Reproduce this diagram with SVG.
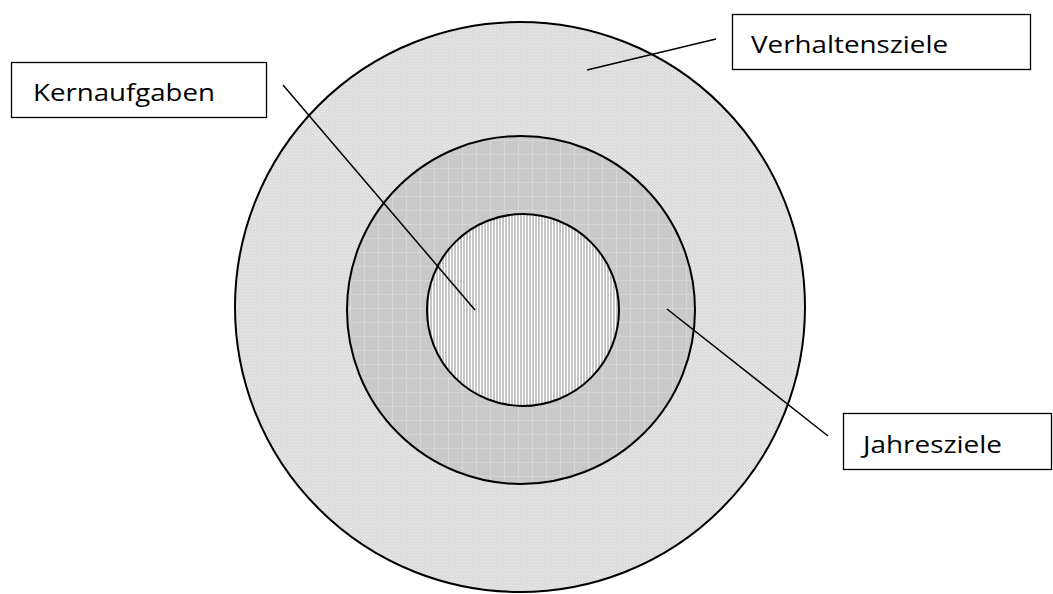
<svg xmlns="http://www.w3.org/2000/svg" width="1053" height="594" viewBox="0 0 1053 594">
<style>
.ring{stroke:#000;stroke-width:2}
.box{fill:#fff;stroke:#000;stroke-width:1.3}
.lbl{font-family:"Open Sans","Noto Sans",sans-serif;font-size:24.5px;fill:#000}
.conn{stroke:#000;stroke-width:1.5;fill:none}
</style>
<defs>
<pattern id="pOuter" width="3" height="3" patternUnits="userSpaceOnUse">
<rect width="3" height="3" fill="#dadada"/>
<rect x="0" y="0" width="1" height="1" fill="#f2f2f2"/>
<rect x="1.5" y="1.5" width="1" height="1" fill="#f2f2f2"/>
</pattern>
<pattern id="pMid" width="14" height="14" patternUnits="userSpaceOnUse">
<rect width="14" height="14" fill="#c9c9c9"/>
<rect x="0" y="0" width="14" height="1" fill="#d6d6d6"/>
<rect x="0" y="0" width="1" height="14" fill="#d6d6d6"/>
</pattern>
<pattern id="pInner" width="3" height="3" patternUnits="userSpaceOnUse">
<rect width="3" height="3" fill="#c6c6c6"/>
<rect x="0" y="0" width="1" height="3" fill="#ffffff"/>
</pattern>
</defs>
<g id="ring-verhaltensziele">
<circle class="ring" cx="520" cy="307" r="285" fill="url(#pOuter)"/>
</g>
<g id="ring-jahresziele">
<circle class="ring" cx="521" cy="310" r="174" fill="url(#pMid)"/>
</g>
<g id="ring-kernaufgaben">
<circle class="ring" cx="523" cy="310" r="96" fill="url(#pInner)"/>
</g>
<g id="connectors">
<line class="conn" x1="283" y1="85" x2="475" y2="310"/>
<line class="conn" x1="587" y1="70" x2="716" y2="39"/>
<line class="conn" x1="667" y1="309" x2="828" y2="436"/>
</g>
<g id="label-kernaufgaben">
<rect class="box" x="11.5" y="62.5" width="255" height="55"/>
<text class="lbl" x="33" y="101" textLength="182" lengthAdjust="spacingAndGlyphs">Kernaufgaben</text>
</g>
<g id="label-verhaltensziele">
<rect class="box" x="732.5" y="14.5" width="298" height="55"/>
<text class="lbl" x="751" y="53" textLength="197" lengthAdjust="spacingAndGlyphs">Verhaltensziele</text>
</g>
<g id="label-jahresziele">
<rect class="box" x="843.5" y="413.5" width="208" height="56"/>
<text class="lbl" x="863" y="453" textLength="139" lengthAdjust="spacingAndGlyphs">Jahresziele</text>
</g>
</svg>
